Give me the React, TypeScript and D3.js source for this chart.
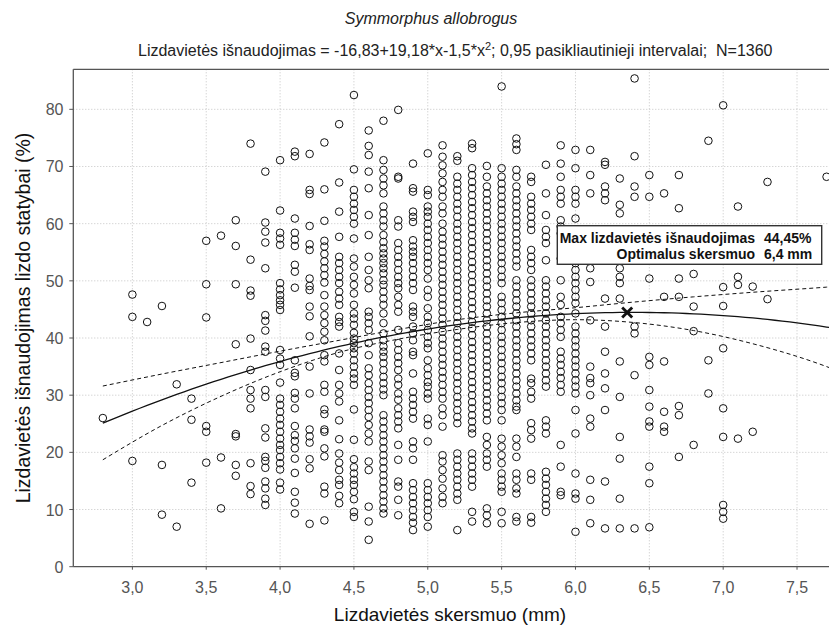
import React from 'react';
import * as d3 from 'd3';

// ---------- data ----------
const columnX = [
  2.8, 3.0, 3.1, 3.2, 3.3, 3.4, 3.5, 3.6, 3.7, 3.8, 3.9,
  4.0, 4.1, 4.2, 4.3, 4.4, 4.5, 4.6, 4.7, 4.8, 4.9,
  5.0, 5.1, 5.2, 5.3, 5.4, 5.5, 5.6, 5.7, 5.8, 5.9,
  6.0, 6.1, 6.2, 6.3, 6.4, 6.5, 6.6, 6.7, 6.8, 6.9,
  7.0, 7.1, 7.2, 7.3, 7.7,
];

const columnY: number[][] = [
  [26.0],
  [47.6, 43.7, 18.5],
  [42.8],
  [45.6, 17.8, 9.1],
  [31.9, 7.0],
  [29.4, 25.7, 14.7],
  [57.0, 49.4, 43.6, 24.6, 23.6, 18.2],
  [57.9, 19.1, 10.2],
  [60.6, 56.1, 49.4, 38.9, 23.2, 22.8, 17.8, 15.9],
  [74.0, 53.7, 48.3, 47.4, 39.9, 34.4, 30.9, 29.4, 27.7, 18.1, 14.1, 12.7],
  [69.1, 60.2, 58.6, 56.7, 52.2, 44.0, 43.0, 41.3, 38.5, 37.6, 30.9, 29.7, 24.2, 22.6, 19.2, 18.5, 17.3, 14.9, 13.7, 11.9, 10.8],
  [71.1, 62.3, 58.4, 57.4, 56.3, 49.6, 48.5, 47.5, 46.6, 45.8, 44.9, 37.9, 36.4, 35.3, 32.2, 29.4, 28.3, 27.1, 25.9, 24.8, 23.6, 22.4, 21.3, 20.4, 19.2, 18.1, 17.0, 14.7, 13.5],
  [72.6, 71.8, 60.9, 58.4, 57.2, 56.1, 52.8, 51.6, 48.8, 36.1, 33.9, 33.3, 30.4, 29.4, 27.7, 24.6, 23.0, 22.0, 20.7, 18.9, 16.4, 13.1, 11.2, 9.3],
  [72.2, 65.9, 65.2, 59.6, 56.4, 55.4, 50.4, 49.1, 48.4, 45.5, 43.8, 40.3, 35.0, 30.3, 24.0, 22.8, 21.7, 18.8, 17.2, 7.5],
  [74.2, 66.0, 60.5, 57.0, 56.0, 54.7, 53.4, 52.2, 51.0, 49.7, 47.5, 45.5, 44.0, 42.6, 41.1, 39.6, 37.0, 35.9, 31.8, 30.6, 27.5, 26.7, 24.0, 23.6, 20.7, 19.3, 14.0, 12.8, 8.1],
  [77.4, 67.2, 62.1, 57.7, 54.2, 53.1, 51.9, 50.7, 49.6, 48.1, 46.9, 45.8, 43.7, 42.8, 42.0, 37.3, 34.4, 31.8, 30.3, 28.9, 25.6, 22.3, 19.8, 18.2, 16.9, 15.2, 14.3, 12.4, 11.1],
  [82.5, 69.5, 65.9, 64.7, 63.5, 62.4, 61.2, 60.0, 57.4, 53.9, 52.5, 50.7, 49.3, 47.8, 45.8, 44.3, 43.4, 42.3, 40.9, 39.9, 39.1, 38.2, 37.3, 36.1, 35.0, 33.8, 32.9, 31.8, 27.5, 22.2, 18.8, 17.4, 16.3, 15.2, 14.3, 13.1, 11.8, 9.6, 8.7],
  [76.3, 73.6, 72.0, 69.1, 66.2, 61.5, 58.0, 54.2, 51.9, 50.1, 48.7, 44.6, 43.7, 42.6, 41.4, 39.1, 37.0, 34.7, 33.5, 32.1, 30.9, 29.7, 28.6, 27.4, 26.2, 24.8, 23.3, 21.9, 18.4, 16.9, 10.5, 7.9, 4.7],
  [78.0, 71.1, 69.4, 67.9, 66.7, 65.3, 63.0, 61.8, 60.6, 59.5, 58.0, 56.8, 55.7, 54.8, 53.9, 53.1, 52.2, 51.3, 50.1, 49.3, 48.1, 46.9, 45.8, 44.3, 42.6, 40.8, 39.6, 38.5, 37.6, 36.7, 35.6, 34.4, 33.2, 32.1, 31.0, 30.0, 26.5, 25.4, 24.2, 23.0, 21.9, 20.7, 19.5, 18.4, 17.2, 16.0, 14.9, 13.7, 12.5, 11.4, 10.2, 9.3],
  [79.9, 68.2, 67.9, 60.6, 59.5, 56.6, 55.4, 54.2, 53.1, 51.9, 50.7, 49.6, 48.7, 47.2, 45.8, 44.6, 41.4, 39.1, 37.9, 36.7, 35.6, 34.4, 32.9, 31.8, 30.3, 29.2, 27.7, 26.5, 25.4, 24.2, 21.3, 18.7, 14.9, 14.0, 11.7, 9.0],
  [70.5, 66.2, 65.6, 62.1, 61.2, 60.3, 57.1, 56.0, 55.1, 54.2, 53.1, 51.9, 50.7, 49.6, 48.4, 45.5, 44.6, 43.7, 42.0, 40.8, 39.6, 37.6, 37.0, 33.8, 30.6, 29.4, 28.3, 27.1, 25.9, 21.9, 20.7, 18.7, 14.6, 13.4, 12.2, 11.1, 9.9, 8.7, 7.7, 6.4],
  [72.3, 65.9, 65.0, 63.0, 62.1, 61.2, 60.0, 58.9, 57.7, 56.6, 55.4, 54.2, 53.1, 51.9, 50.4, 48.4, 47.2, 45.2, 43.7, 42.6, 41.4, 40.2, 39.1, 38.2, 36.1, 34.7, 33.5, 32.3, 31.5, 30.3, 29.4, 25.9, 24.8, 21.9, 14.6, 13.4, 12.2, 11.1, 9.9, 8.7, 7.0],
  [73.7, 71.7, 70.2, 68.8, 67.3, 65.9, 64.7, 63.0, 61.8, 60.0, 58.6, 57.4, 56.3, 55.1, 53.9, 52.8, 51.6, 50.4, 49.3, 48.1, 46.9, 45.8, 44.6, 43.4, 42.3, 41.1, 39.9, 38.8, 37.6, 36.4, 35.3, 34.1, 33.0, 31.8, 30.6, 29.4, 27.7, 26.5, 24.5, 19.5, 18.4, 16.9, 15.4, 13.7, 12.2, 11.1],
  [71.8, 71.0, 68.2, 67.0, 65.9, 64.7, 63.5, 62.4, 61.2, 60.0, 58.9, 57.7, 56.6, 55.4, 54.2, 53.1, 51.9, 50.7, 49.6, 48.4, 47.2, 46.1, 44.9, 43.7, 42.6, 41.4, 40.2, 39.1, 37.9, 36.7, 35.6, 34.4, 33.2, 32.1, 30.9, 29.7, 28.6, 27.4, 26.2, 25.1, 19.8, 18.7, 17.5, 16.3, 15.2, 14.0, 12.8, 11.7, 6.4],
  [74.0, 73.2, 69.7, 68.5, 67.3, 66.2, 65.0, 63.8, 62.7, 61.5, 60.3, 59.2, 58.0, 56.8, 55.7, 54.5, 53.3, 52.2, 51.0, 49.8, 48.7, 47.5, 46.3, 45.2, 44.0, 42.8, 41.7, 40.5, 39.3, 38.2, 37.0, 35.9, 34.7, 33.5, 32.3, 31.2, 30.0, 28.8, 27.7, 26.5, 25.4, 24.2, 23.3, 19.8, 18.7, 17.5, 16.3, 15.2, 14.0, 9.6, 7.9],
  [70.1, 68.2, 66.5, 65.3, 64.1, 63.0, 61.8, 60.6, 59.5, 58.3, 57.1, 56.0, 54.8, 53.6, 52.5, 51.3, 50.1, 49.0, 47.8, 46.6, 45.5, 44.3, 43.1, 42.0, 40.8, 39.6, 38.5, 37.3, 36.1, 35.0, 33.8, 32.6, 31.5, 30.3, 29.1, 28.0, 26.8, 25.6, 22.7, 21.3, 19.8, 18.7, 17.5, 10.2, 9.0, 7.6],
  [84.0, 69.7, 68.2, 67.0, 65.9, 64.7, 63.5, 62.4, 61.2, 60.0, 58.9, 57.7, 56.6, 55.4, 54.2, 53.1, 51.9, 50.7, 49.6, 47.2, 46.1, 44.9, 43.7, 42.6, 41.4, 40.2, 39.1, 37.9, 36.7, 35.6, 34.4, 33.2, 32.1, 30.9, 29.7, 28.6, 27.4, 25.6, 22.4, 21.0, 19.5, 18.1, 16.3, 15.2, 14.0, 13.1, 9.6, 7.6],
  [74.9, 73.9, 72.9, 69.4, 68.2, 66.5, 65.3, 64.1, 63.0, 61.8, 60.6, 59.5, 58.3, 57.1, 56.0, 54.8, 53.6, 52.5, 50.1, 49.0, 47.8, 46.6, 45.5, 44.3, 43.1, 42.0, 40.8, 39.6, 38.5, 37.3, 36.1, 35.0, 33.8, 32.6, 31.5, 30.3, 29.1, 28.0, 27.4, 22.4, 21.0, 19.2, 16.3, 15.2, 13.7, 12.8, 8.7, 7.9],
  [68.2, 67.3, 64.7, 63.5, 62.4, 61.2, 60.0, 58.9, 55.4, 54.2, 53.1, 51.9, 50.1, 49.0, 47.8, 46.6, 45.5, 44.3, 43.1, 42.0, 40.8, 39.6, 38.5, 37.3, 36.1, 32.9, 32.1, 30.6, 29.4, 25.1, 23.9, 22.4, 16.3, 15.2, 8.7, 7.7],
  [70.3, 65.3, 61.5, 58.9, 57.7, 56.6, 53.6, 50.1, 49.0, 47.8, 46.6, 45.5, 44.3, 43.1, 42.0, 40.8, 39.6, 38.5, 37.3, 36.1, 35.0, 33.8, 32.6, 31.5, 25.6, 24.5, 23.3, 16.6, 15.4, 14.3, 13.1, 11.9, 10.8, 9.6],
  [73.7, 70.5, 68.2, 65.9, 64.7, 63.5, 60.6, 59.5, 58.3, 53.9, 50.1, 47.2, 45.8, 43.7, 42.6, 41.4, 40.2, 37.6, 36.4, 35.3, 34.1, 33.0, 31.8, 30.6, 21.3, 17.5, 13.1, 12.5],
  [72.9, 69.7, 65.9, 64.7, 63.5, 60.9, 53.1, 51.9, 50.7, 49.6, 48.4, 47.2, 46.1, 44.3, 42.0, 40.8, 39.6, 38.5, 37.3, 36.1, 35.0, 33.8, 32.6, 31.5, 30.3, 27.4, 23.3, 16.3, 12.8, 11.9, 6.1],
  [72.9, 68.5, 65.3, 52.2, 49.8, 43.1, 35.0, 33.0, 32.1, 30.0, 25.9, 24.5, 15.2, 11.7, 7.6],
  [70.8, 70.3, 66.5, 65.3, 64.1, 46.9, 42.0, 37.6, 33.8, 31.2, 27.4, 14.9, 6.7],
  [67.9, 63.3, 61.8, 52.2, 50.7, 49.6, 46.9, 35.9, 29.7, 22.7, 18.9, 11.9, 6.7],
  [85.4, 71.8, 66.5, 64.7, 42.0, 40.8, 33.5, 6.7],
  [68.5, 64.7, 50.4, 36.7, 35.3, 30.9, 28.0, 25.4, 24.5, 17.5, 14.6, 6.9],
  [65.3, 47.2, 35.9, 27.1, 24.5, 23.6],
  [68.5, 62.7, 50.4, 47.2, 28.1, 26.5, 19.2],
  [51.2, 45.5, 41.2, 21.3],
  [74.5, 36.1, 30.3],
  [80.7, 48.9, 45.6, 38.2, 27.7, 22.7, 10.8, 9.6, 8.4],
  [63.0, 50.7, 49.3, 22.4],
  [49.0, 23.6],
  [67.3, 46.8],
  [68.2],
];

// 0,95 confidence band
const bandX = [2.8, 3.2, 3.6, 4.0, 4.4, 4.8, 5.2, 5.6, 6.0, 6.4, 6.8, 7.2, 7.7, 7.8];
const bandUpper = [31.6, 33.7, 35.7, 37.7, 39.6, 41.5, 43.2, 44.4, 45.3, 46.3, 47.2, 48.0, 48.9, 49.1];
const bandLower = [18.7, 24.7, 29.8, 34.1, 37.5, 39.8, 41.5, 42.7, 43.2, 42.7, 41.3, 39.0, 35.0, 34.0];

// regression from the subtitle: y = -16,83 + 19,18*x - 1,5*x^2
const fitCoef = [-16.83, 19.18, -1.5];
const fitRange = [2.8, 7.8];
const maxMarker = { x: 6.35, y: 44.45 };

const xTicks = [3.0, 3.5, 4.0, 4.5, 5.0, 5.5, 6.0, 6.5, 7.0, 7.5];
const yTicks = [0, 10, 20, 30, 40, 50, 60, 70, 80];

const titleText = 'Symmorphus allobrogus';
const subtitleA = 'Lizdavietės išnaudojimas = -16,83+19,18*x-1,5*x';
const subtitleB = '; 0,95 pasikliautinieji intervalai;\u00A0 N=1360';
const yLabel = 'Lizdavietės išnaudojimas lizdo statybai (%)';
const xLabel = 'Lizdavietės skersmuo (mm)';
const boxLabels = ['Max lizdavietės išnaudojimas', 'Optimalus skersmuo'];
const boxValues = ['44,45%', '6,4 mm'];

// ---------- layout ----------
const W = 829;
const H = 628;
const left = 73.3;
const top = 69.3;
const bottom = 566.7;
const FONT = '"Liberation Sans", Arial, sans-serif';

export default function App() {
  const x = d3.scaleLinear().domain([2.6, 7.8]).range([left, left + 5.2 * 147.7]);
  const y = d3.scaleLinear().domain([0, 87]).range([bottom, top]);
  const right = x(7.8);

  const fmt = (v: number) => d3.format('.1f')(v).replace('.', ',');

  const fitPts = d3.range(fitRange[0], fitRange[1] + 0.0001, 0.05).map((v) => [
    v,
    fitCoef[0] + fitCoef[1] * v + fitCoef[2] * v * v,
  ]);
  const line = d3
    .line<number[]>()
    .x((d) => x(d[0]))
    .y((d) => y(d[1]));
  const bandLine = d3
    .line<number[]>()
    .x((d) => x(d[0]))
    .y((d) => y(d[1]))
    .curve(d3.curveMonotoneX);
  const upperPts = bandX.map((v, i) => [v, bandUpper[i]]);
  const lowerPts = bandX.map((v, i) => [v, bandLower[i]]);

  const points: { cx: number; cy: number }[] = [];
  columnX.forEach((cx, i) => {
    columnY[i].forEach((v) => points.push({ cx: x(cx), cy: y(v) }));
  });

  const mx = x(maxMarker.x);
  const my = y(maxMarker.y);

  return (
    <svg
      width={W}
      height={H}
      style={{ position: 'absolute', left: 0, top: 0, background: '#fff' }}
      fontFamily={FONT}
    >
      <defs>
        <clipPath id="plot">
          <rect x={left} y={top} width={right - left} height={bottom - top} />
        </clipPath>
      </defs>
      <rect x={0} y={0} width={W} height={H} fill="#fff" />

      {/* grid */}
      {xTicks.map((t) => (
        <line key={'gx' + t} x1={x(t)} x2={x(t)} y1={top} y2={bottom} stroke="#c4c4c4" strokeWidth={1} strokeDasharray="1,2" />
      ))}
      {yTicks.filter((t) => t > 0).map((t) => (
        <line key={'gy' + t} x1={left} x2={right} y1={y(t)} y2={y(t)} stroke="#c4c4c4" strokeWidth={1} strokeDasharray="1,2" />
      ))}

      {/* points */}
      <g clipPath="url(#plot)">
        {points.map((p, i) => (
          <circle key={i} cx={p.cx} cy={p.cy} r={3.8} fill="none" stroke="#111" strokeWidth={1} />
        ))}
        <path d={bandLine(upperPts) || ''} fill="none" stroke="#111" strokeWidth={1} strokeDasharray="4,3" />
        <path d={bandLine(lowerPts) || ''} fill="none" stroke="#111" strokeWidth={1} strokeDasharray="4,3" />
        <path d={line(fitPts) || ''} fill="none" stroke="#111" strokeWidth={1.3} />
      </g>

      {/* max marker */}
      <g stroke="#111" strokeWidth={2.8}>
        <line x1={mx - 5} y1={my - 5} x2={mx + 5} y2={my + 5} />
        <line x1={mx - 5} y1={my + 5} x2={mx + 5} y2={my - 5} />
      </g>

      {/* annotation box */}
      <rect x={557.3} y={225.7} width={264.4} height={38.6} fill="#fff" stroke="#333" strokeWidth={1.4} />
      <g fontWeight="bold" fontSize={14} fill="#111">
        <text x={755} y={243} textAnchor="end">{boxLabels[0]}</text>
        <text x={764} y={243}>{boxValues[0]}</text>
        <text x={755} y={259} textAnchor="end">{boxLabels[1]}</text>
        <text x={764} y={259}>{boxValues[1]}</text>
      </g>

      {/* frame */}
      <line x1={left} x2={right} y1={top} y2={top} stroke="#555" strokeWidth={1.3} />
      <line x1={left} x2={left} y1={top} y2={bottom} stroke="#555" strokeWidth={1.3} />
      <line x1={left} x2={right} y1={bottom} y2={bottom} stroke="#555" strokeWidth={1.3} />

      {/* ticks */}
      {xTicks.map((t) => (
        <g key={'tx' + t}>
          <line x1={x(t)} x2={x(t)} y1={bottom} y2={bottom + 3} stroke="#555" />
          <text x={x(t)} y={593} textAnchor="middle" fontSize={16} fill="#555">{fmt(t)}</text>
        </g>
      ))}
      {yTicks.map((t) => (
        <g key={'ty' + t}>
          <line x1={left - 4} x2={left} y1={y(t)} y2={y(t)} stroke="#555" />
          <text x={63.5} y={y(t) + 6} textAnchor="end" fontSize={16} fill="#555">{t}</text>
        </g>
      ))}

      {/* titles */}
      <text x={431} y={24} textAnchor="middle" fontSize={16} fontStyle="italic" fill="#222">{titleText}</text>
      <text x={138} y={56} fontSize={16} fill="#222">
        {subtitleA}
        <tspan dy={-6} fontSize={11}>2</tspan>
        <tspan dy={6}>{subtitleB}</tspan>
      </text>
      <text x={450} y={621} textAnchor="middle" fontSize={19} fill="#111">{xLabel}</text>
      <text transform={`translate(30,${(top + bottom) / 2}) rotate(-90)`} textAnchor="middle" fontSize={19.5} fill="#111">{yLabel}</text>
    </svg>
  );
}
